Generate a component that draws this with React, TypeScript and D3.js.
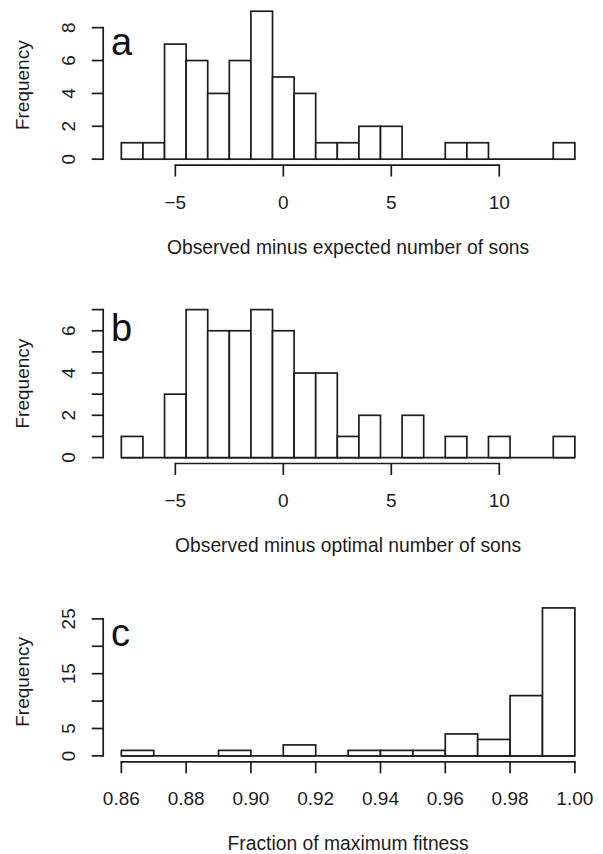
import React from "react";
import * as d3 from "d3";

// ---------- data ----------
const edgesAB = [-7.5, -6.5, -5.5, -4.5, -3.5, -2.5, -1.5, -0.5, 0.5, 1.5, 2.5, 3.5, 4.5, 5.5, 6.5, 7.5, 8.5, 9.5, 10.5, 11.5, 12.5, 13.5];
const countsA = [1, 1, 7, 6, 4, 6, 9, 5, 4, 1, 1, 2, 2, 0, 0, 1, 1, 0, 0, 0, 1];
const countsB = [1, 0, 3, 7, 6, 6, 7, 6, 4, 4, 1, 2, 0, 2, 0, 1, 0, 1, 0, 0, 1];
const edgesC = [0.86, 0.87, 0.88, 0.89, 0.9, 0.91, 0.92, 0.93, 0.94, 0.95, 0.96, 0.97, 0.98, 0.99, 1.0];
const countsC = [1, 0, 0, 1, 0, 2, 0, 1, 1, 1, 4, 3, 11, 27];

const xTicksAB = [-5, 0, 5, 10];
const xTicksC = [0.86, 0.88, 0.9, 0.92, 0.94, 0.96, 0.98, 1.0];
const yTicksA = [0, 2, 4, 6, 8];
const yLabelsA = [0, 2, 4, 6, 8];
const yTicksB = [0, 1, 2, 3, 4, 5, 6, 7];
const yLabelsB = [0, 2, 4, 6];
const yTicksC = [0, 5, 10, 15, 20, 25];
const yLabelsC = [0, 5, 15, 25];

const letters = ["a", "b", "c"];
const xTitles = [
  "Observed minus expected number of sons",
  "Observed minus optimal number of sons",
  "Fraction of maximum fitness",
];
const yTitle = "Frequency";

// ---------- layout ----------
const W = 603;
const H = 854;
const plotLeft = 103.2;
const plotRight = 593;
const panelTops = [5.3, 303.7, 602];
const panelH = 159.8;
const letterPos = [
  { x: 111, y: 55 },
  { x: 111, y: 340.5 },
  { x: 111, y: 646 },
];
const FONT = "'Liberation Sans', Arial, Helvetica, sans-serif";
const INK = "#1c1c1c";
const SW = 1.7;

type PanelProps = {
  idx: number;
  edges: number[];
  counts: number[];
  xTicks: number[];
  xFmt: (v: number) => string;
  yTicks: number[];
  yLabels: number[];
};

function Panel({ idx, edges, counts, xTicks, xFmt, yTicks, yLabels }: PanelProps) {
  const top = panelTops[idx];
  const bottom = top + panelH;
  const lo = edges[0];
  const hi = edges[edges.length - 1];
  const span = hi - lo;
  const x = d3
    .scaleLinear()
    .domain([lo - 0.04 * span, hi + 0.04 * span])
    .range([plotLeft, plotRight]);
  const maxC = d3.max(counts) as number;
  const y = d3
    .scaleLinear()
    .domain([-0.04 * maxC, maxC * 1.04])
    .range([bottom, top]);
  const tickLen = 11.5;
  const axisY = bottom;
  const cx = (plotLeft + plotRight) / 2;
  const cy = (top + bottom) / 2;

  return (
    <g>
      {/* baseline of the histogram (empty bins show as a flat line) */}
      <line
        x1={x(lo)}
        x2={x(hi)}
        y1={y(0)}
        y2={y(0)}
        stroke={INK}
        strokeWidth={SW}
      />
      {/* bars */}
      {counts.map((c, i) =>
        c > 0 ? (
          <rect
            key={i}
            x={x(edges[i])}
            y={y(c)}
            width={x(edges[i + 1]) - x(edges[i])}
            height={y(0) - y(c)}
            fill="white"
            stroke={INK}
            strokeWidth={SW}
          />
        ) : null
      )}
      {/* x axis */}
      <line
        x1={x(xTicks[0])}
        x2={x(xTicks[xTicks.length - 1])}
        y1={axisY}
        y2={axisY}
        stroke={INK}
        strokeWidth={SW}
        strokeLinecap="square"
      />
      {xTicks.map((t, i) => (
        <g key={i}>
          <line x1={x(t)} x2={x(t)} y1={axisY} y2={axisY + tickLen} stroke={INK} strokeWidth={SW} />
          <text
            x={x(t)}
            y={axisY + 43.5}
            textAnchor="middle"
            fontSize={19}
            fontFamily={FONT}
            fill={INK}
          >
            {xFmt(t)}
          </text>
        </g>
      ))}
      <text
        x={cx}
        y={axisY + 88.5}
        textAnchor="middle"
        fontSize={19.3}
        fontFamily={FONT}
        fill={INK}
      >
        {xTitles[idx]}
      </text>
      {/* y axis */}
      <line
        x1={plotLeft}
        x2={plotLeft}
        y1={y(yTicks[0])}
        y2={y(yTicks[yTicks.length - 1])}
        stroke={INK}
        strokeWidth={SW}
        strokeLinecap="square"
      />
      {yTicks.map((t, i) => (
        <line
          key={i}
          x1={plotLeft - tickLen}
          x2={plotLeft}
          y1={y(t)}
          y2={y(t)}
          stroke={INK}
          strokeWidth={SW}
        />
      ))}
      {yLabels.map((t, i) => (
        <text
          key={i}
          transform={`translate(75,${y(t)}) rotate(-90)`}
          textAnchor="middle"
          fontSize={19}
          fontFamily={FONT}
          fill={INK}
        >
          {String(t)}
        </text>
      ))}
      <text
        transform={`translate(28.5,${cy}) rotate(-90)`}
        textAnchor="middle"
        fontSize={19}
        fontFamily={FONT}
        fill={INK}
      >
        {yTitle}
      </text>
      {/* panel letter */}
      <text
        x={letterPos[idx].x}
        y={letterPos[idx].y}
        fontSize={38}
        fontFamily={FONT}
        fill="#111"
      >
        {letters[idx]}
      </text>
    </g>
  );
}

export default function App() {
  const fmtInt = (v: number) => (v < 0 ? "\u2212" + Math.abs(v) : String(v));
  const fmtC = d3.format(".2f");
  return (
    <svg
      width={W}
      height={H}
      viewBox={`0 0 ${W} ${H}`}
      style={{ position: "absolute", left: 0, top: 0, background: "white" }}
    >
      <rect x={0} y={0} width={W} height={H} fill="white" />
      <Panel idx={0} edges={edgesAB} counts={countsA} xTicks={xTicksAB} xFmt={fmtInt} yTicks={yTicksA} yLabels={yLabelsA} />
      <Panel idx={1} edges={edgesAB} counts={countsB} xTicks={xTicksAB} xFmt={fmtInt} yTicks={yTicksB} yLabels={yLabelsB} />
      <Panel idx={2} edges={edgesC} counts={countsC} xTicks={xTicksC} xFmt={(v) => fmtC(v)} yTicks={yTicksC} yLabels={yLabelsC} />
    </svg>
  );
}
